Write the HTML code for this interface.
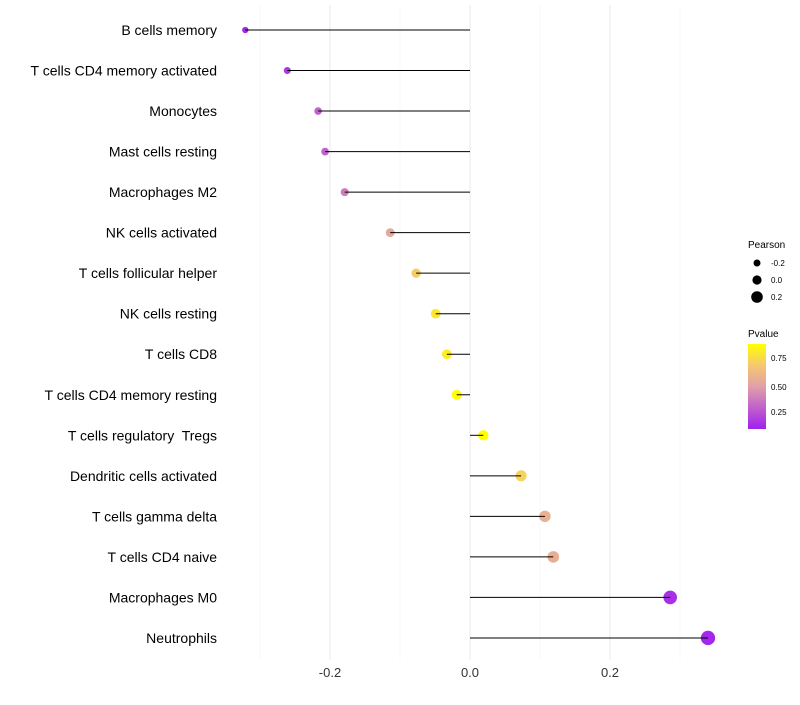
<!DOCTYPE html>
<html><head><meta charset="utf-8"><style>
body{margin:0;background:#fff;font-family:"Liberation Sans",sans-serif;}
svg text{font-family:"Liberation Sans",sans-serif;white-space:pre;}
</style></head><body>
<svg id="chart" width="800" height="700">
<defs><linearGradient id="pg" x1="0" y1="1" x2="0" y2="0">
<stop offset="0" stop-color="#a020f0"/><stop offset="0.5" stop-color="#e0a0a8"/><stop offset="0.75" stop-color="#f5c870"/><stop offset="1" stop-color="#ffff00"/>
</linearGradient></defs>
<g id="grid"></g>
<g id="marks"></g>
<g id="axes"></g>
<g>
<text x="748" y="248" font-size="10">Pearson</text>
<circle cx="757" cy="263" r="3.5" fill="#000"/><text x="771" y="266" font-size="8">-0.2</text>
<circle cx="757" cy="280" r="4.6" fill="#000"/><text x="771" y="283" font-size="8">0.0</text>
<circle cx="757" cy="297" r="5.8" fill="#000"/><text x="771" y="300" font-size="8">0.2</text>
</g>
<g>
<text x="748" y="337" font-size="10">Pvalue</text>
<rect x="748" y="344" width="18" height="85" fill="url(#pg)"/>
<text x="771" y="361" font-size="8">0.75</text>
<text x="771" y="390" font-size="8">0.50</text>
<text x="771" y="415" font-size="8">0.25</text>
</g>
</svg>
<script>
const categories=["B cells memory","T cells CD4 memory activated","Monocytes","Mast cells resting","Macrophages M2","NK cells activated","T cells follicular helper","NK cells resting","T cells CD8","T cells CD4 memory resting","T cells regulatory  Tregs","Dendritic cells activated","T cells gamma delta","T cells CD4 naive","Macrophages M0","Neutrophils"];
const pearson=[-0.321,-0.261,-0.217,-0.207,-0.179,-0.114,-0.077,-0.049,-0.033,-0.019,0.019,0.073,0.107,0.119,0.286,0.34];
const pvalues=[0.12,0.18,0.3,0.3,0.38,0.53,0.7,0.8,0.82,0.88,0.88,0.72,0.57,0.56,0.15,0.12];
const xTicks=[-0.2,0,0.2];
const xTickLabels=["-0.2","0.0","0.2"];
const xMinor=[-0.3,-0.1,0.1,0.3];
const NS="http://www.w3.org/2000/svg";
const xs=v=>470+v*700;
const ys=i=>30+i*40.53;
function mk(t,a,p){const e=document.createElementNS(NS,t);for(const k in a)e.setAttribute(k,a[k]);p.appendChild(e);return e;}
function lerp(a,b,t){return a+(b-a)*t;}
const stops=[[0,[160,32,240]],[0.5,[224,160,168]],[0.75,[245,200,112]],[1,[255,255,0]]];
function col(p){const t=Math.max(0,Math.min(1,(p-0.1)/0.78));
for(let k=0;k<stops.length-1;k++){const [t0,a]=stops[k],[t1,b]=stops[k+1];
if(t<=t1){const u=(t-t0)/(t1-t0);return `rgb(${Math.round(lerp(a[0],b[0],u))},${Math.round(lerp(a[1],b[1],u))},${Math.round(lerp(a[2],b[2],u))})`;}}
return 'rgb(255,255,0)';}
const grid=document.getElementById('grid'),marks=document.getElementById('marks'),axes=document.getElementById('axes');
xMinor.forEach(v=>{const l=mk('line',{x1:xs(v),x2:xs(v),y1:5,y2:660,stroke:'#f4f4f4','stroke-width':0.6},grid);
});
xTicks.forEach((v,i)=>{const l=mk('line',{x1:xs(v),x2:xs(v),y1:5,y2:660,stroke:'#ececec','stroke-width':1.1},grid);

const t=mk('text',{x:xs(v),y:677,'font-size':13,'text-anchor':'middle',fill:'#333'},axes);t.textContent=xTickLabels[i];
});
categories.forEach((c,i)=>{const y=ys(i);
const t=mk('text',{x:217,y:y+5,'font-size':14,'text-anchor':'end',fill:'#000'},axes);t.textContent=c;

const d=mk('circle',{cx:xs(pearson[i]),cy:y,r:5.1+6*pearson[i],fill:col(pvalues[i])},marks);

const l=mk('line',{x1:xs(0),x2:xs(pearson[i]),y1:y,y2:y,stroke:'#000','stroke-width':1},marks);
});
</script>
</body></html>
